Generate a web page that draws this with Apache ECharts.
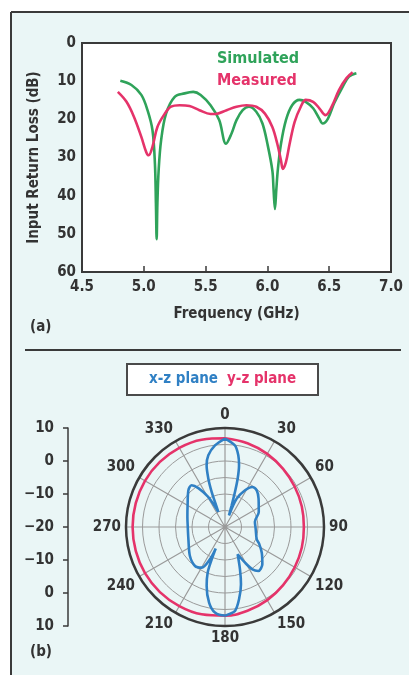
<!DOCTYPE html>
<html><head><meta charset="utf-8">
<script src="https://cdn.jsdelivr.net/npm/echarts@6/dist/echarts.min.js"></script>
<style>html,body{margin:0;padding:0;background:#fff}#c{width:409px;height:675px}</style>
</head><body><div id="c"></div>
<script>
// ---------- data ----------
const freqTicks = [4.5, 5.0, 5.5, 6.0, 6.5, 7.0];
const lossTicks = [0, 10, 20, 30, 40, 50, 60];

const simFreq = [4.81,4.90,4.98,5.03,5.07,5.09,5.098,5.104,5.110,5.12,5.14,5.18,5.25,5.33,5.40,5.46,5.54,5.61,5.665,5.71,5.75,5.80,5.85,5.91,5.96,6.00,6.04,6.05,6.061,6.072,6.085,6.11,6.15,6.20,6.26,6.31,6.37,6.42,6.447,6.49,6.54,6.61,6.66,6.72];
const simLoss = [9.9,11.0,13.6,17.6,22.8,31.6,42.0,51.4,42.0,33.4,25.5,18.5,14.1,13.2,12.8,13.6,16.3,20.2,26.4,23.7,20.2,17.6,16.7,18.0,21.1,26.4,33.4,38.5,43.5,38.5,33.0,26.4,20.2,16.3,14.9,15.4,17.1,19.8,21.1,19.8,15.8,11.4,8.8,7.9];

const measFreq = [4.79,4.86,4.92,4.98,5.02,5.04,5.07,5.11,5.17,5.22,5.29,5.37,5.45,5.54,5.58,5.67,5.75,5.83,5.91,5.98,6.04,6.08,6.11,6.125,6.15,6.18,6.22,6.27,6.31,6.37,6.42,6.47,6.52,6.58,6.64,6.69];
const measLoss = [12.8,15.4,19.3,24.6,28.6,29.4,27.2,22.0,18.5,16.7,16.3,16.5,17.6,18.6,18.6,17.6,16.7,16.3,16.7,18.5,22.0,26.4,30.8,33.0,31.2,26.4,20.7,16.7,14.9,15.4,17.1,18.9,16.7,12.3,9.2,7.7];

const angleTicks = [0,30,60,90,120,150,180,210,240,270,300,330];
const radialScaleLabels = ['10','0','\u221210','\u221220','\u221210','0','10'];

const xzAngle = [0,7,10.5,12.8,14.7,15.9,17.1,19,22.4,28.6,34.3,40.8,49.9,66,80,93,111,116,125,135,142.9,147.1,150.7,155.1,160.5,164.4,169,173.2,177.8,180,186.7,191.9,197.3,200.8,202.3,203.3,205,209.8,217.6,230.4,251.4,271.5,285,300.1,315,321.3,325.6,330.9,336,338.2,339.2,341,343.4,346.9,353,360];
const xzGain  = [6.8,4.9,2.1,-0.8,-4.9,-9.0,-13.1,-16.3,-10.7,-7.3,-5.3,-5.3,-6.7,-8.8,-10.8,-10.7,-9.7,-8.5,-6.4,-4.0,-3.3,-4.7,-7.6,-10.9,-6.4,-2.0,2.3,5.6,6.5,6.8,6.1,3.4,-1.3,-5.2,-9.3,-12.9,-9.2,-5.8,-5.1,-6.2,-8.3,-8.7,-8.2,-6.9,-4.3,-3.8,-5.7,-9.6,-15.0,-11.8,-8.6,-4.5,-0.5,2.3,4.9,6.8];

const yzAngle = [0,15,30,45,60,75,90,105,120,135,150,165,180,195,210,225,240,255,270,285,300,315,330,345,360];
const yzGain  = [6.9,6.3,5.6,4.9,4.4,4.1,3.9,4.1,4.4,4.9,5.6,6.3,6.9,7.4,7.7,7.9,8.0,8.0,8.0,8.0,8.0,7.9,7.7,7.4,6.9];

// ---------- style ----------
const FONT = '"Liberation Sans Narrow","DejaVu Sans Condensed","Roboto Condensed",sans-serif';
const GREEN = '#2fa35a', RED = '#e5336a', BLUE = '#3080c4', DARK = '#3a3a3a', BG = '#eaf6f6', TXT = '#333333';
const lbl = (size) => ({fontFamily: FONT, fontWeight: 'bold', fontSize: size, color: TXT});

const chart = echarts.init(document.getElementById('c'), null, {renderer: 'canvas'});
chart.setOption({
  animation: false,
  backgroundColor: '#ffffff',
  textStyle: {fontFamily: FONT},
  graphic: [
    {type: 'rect', z: -100, shape: {x: 11, y: 12, width: 398, height: 663}, style: {fill: BG}},
    {type: 'line', z: 100, shape: {x1: 11, y1: 12, x2: 409, y2: 12}, style: {stroke: DARK, lineWidth: 2}},
    {type: 'line', z: 100, shape: {x1: 11, y1: 12, x2: 11, y2: 675}, style: {stroke: DARK, lineWidth: 2}},
    {type: 'line', z: 100, shape: {x1: 25, y1: 350, x2: 401, y2: 350}, style: {stroke: DARK, lineWidth: 2}},
    {type: 'rect', z: 1, shape: {x: 127, y: 364, width: 191, height: 31}, style: {fill: '#ffffff', stroke: '#4a4a4a', lineWidth: 2}},
    {type: 'text', z: 100, left: 30, top: 320, style: {text: '(a)', font: 'bold 15px ' + FONT, fill: TXT}},
    {type: 'text', z: 100, left: 30, top: 645, style: {text: '(b)', font: 'bold 15px ' + FONT, fill: TXT}}
  ],
  legend: [
    {data: [{name: 'Simulated', textStyle: {color: GREEN}}, {name: 'Measured', textStyle: {color: RED}}],
     orient: 'vertical', left: 212, top: 51, itemWidth: 0, itemHeight: 14, itemGap: 6, icon: 'rect',
     itemStyle: {opacity: 0}, lineStyle: {opacity: 0}, padding: 0, selectedMode: false,
     textStyle: {fontFamily: FONT, fontWeight: 'bold', fontSize: 16}},
    {data: [{name: 'x-z plane', textStyle: {color: BLUE}}, {name: 'y-z plane', textStyle: {color: RED}}],
     orient: 'horizontal', left: 144, top: 372, itemWidth: 0, itemHeight: 14, itemGap: 4, icon: 'rect',
     itemStyle: {opacity: 0}, lineStyle: {opacity: 0}, padding: 0, selectedMode: false,
     textStyle: {fontFamily: FONT, fontWeight: 'bold', fontSize: 15}}
  ],
  grid: [
    {left: 82, top: 43, width: 309, height: 229, show: true, backgroundColor: '#ffffff', borderColor: DARK, borderWidth: 2},
    {left: 68, top: 428, width: 1, height: 198, show: false}
  ],
  xAxis: [
    {gridIndex: 0, type: 'value', position: 'bottom', min: freqTicks[0], max: freqTicks[freqTicks.length - 1], interval: 0.5,
     axisLine: {show: true, onZero: false, lineStyle: {color: DARK, width: 2}},
     axisTick: {show: true, inside: true, length: 6, lineStyle: {color: DARK, width: 1.5}},
     axisLabel: Object.assign(lbl(15), {margin: 8, formatter: v => v.toFixed(1)}),
     splitLine: {show: false},
     name: 'Frequency (GHz)', nameLocation: 'middle', nameGap: 35, nameTextStyle: lbl(15)},
    {gridIndex: 1, type: 'value', show: false, min: 0, max: 1}
  ],
  yAxis: [
    {gridIndex: 0, type: 'value', inverse: true, min: lossTicks[0], max: lossTicks[lossTicks.length - 1], interval: 10,
     axisLine: {show: false}, axisTick: {show: false}, splitLine: {show: false},
     axisLabel: Object.assign(lbl(15), {margin: 6}),
     name: 'Input Return Loss (dB)', nameLocation: 'middle', nameGap: 40, nameRotate: 90, nameTextStyle: lbl(15)},
    {gridIndex: 1, type: 'value', min: -30, max: 30, interval: 10,
     axisLine: {show: true, lineStyle: {color: DARK, width: 1.5}},
     axisTick: {show: true, length: 5, lineStyle: {color: DARK, width: 1.5}},
     splitLine: {show: false},
     axisLabel: Object.assign(lbl(15), {margin: 14, formatter: v => radialScaleLabels[(30 - v) / 10]})}
  ],
  polar: {center: [225, 527], radius: 99},
  angleAxis: {type: 'value', min: 0, max: 360, interval: 30, startAngle: 90, clockwise: true,
    axisLine: {show: true, lineStyle: {color: DARK, width: 2.5}},
    axisTick: {show: false},
    axisLabel: Object.assign(lbl(15), {margin: 5, formatter: v => angleTicks.indexOf(v) >= 0 ? String(v) : ''}),
    splitLine: {show: true, lineStyle: {color: '#9a9a9a', width: 1.2}}},
  radiusAxis: {type: 'value', min: -20, max: 10, interval: 5,
    axisLine: {show: false}, axisTick: {show: false}, axisLabel: {show: false},
    splitLine: {show: true, lineStyle: {color: '#9a9a9a', width: 1}}},
  series: [
    {name: 'Simulated', type: 'line', xAxisIndex: 0, yAxisIndex: 0, smooth: 0.35, showSymbol: false,
     lineStyle: {color: GREEN, width: 2.6}, itemStyle: {color: GREEN},
     data: simFreq.map((f, i) => [f, simLoss[i]])},
    {name: 'Measured', type: 'line', xAxisIndex: 0, yAxisIndex: 0, smooth: 0.35, showSymbol: false,
     lineStyle: {color: RED, width: 2.6}, itemStyle: {color: RED},
     data: measFreq.map((f, i) => [f, measLoss[i]])},
    {name: 'y-z plane', type: 'line', coordinateSystem: 'polar', smooth: 0.4, showSymbol: false,
     lineStyle: {color: RED, width: 2.6}, itemStyle: {color: RED},
     data: yzAngle.map((a, i) => [yzGain[i], a])},
    {name: 'x-z plane', type: 'line', coordinateSystem: 'polar', smooth: 0.3, showSymbol: false,
     lineStyle: {color: BLUE, width: 2.6}, itemStyle: {color: BLUE},
     data: xzAngle.map((a, i) => [xzGain[i], a])}
  ]
});
</script></body></html>
